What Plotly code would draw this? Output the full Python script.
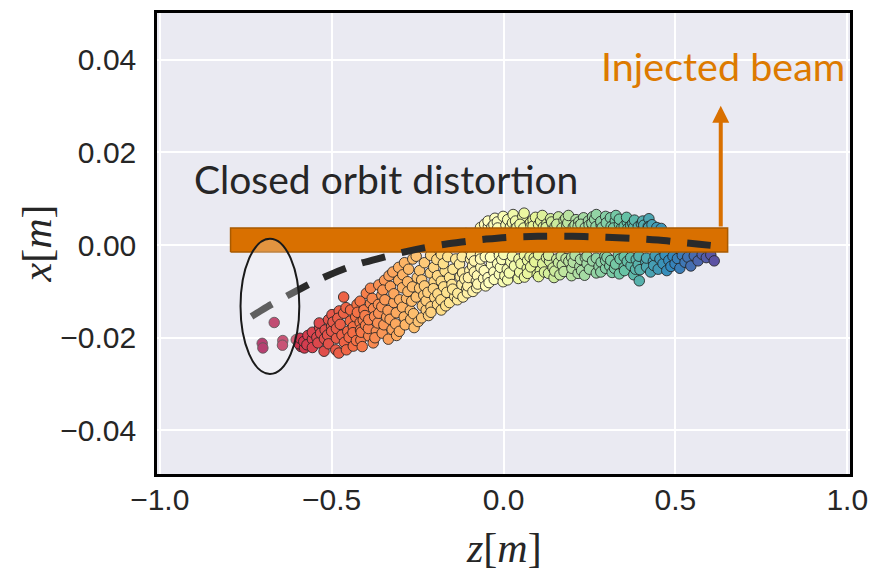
import plotly.graph_objects as go

# ---- particle cloud, grouped by longitudinal slice (z [m], x [m]) ----
z_tail = [-0.667, -0.702, -0.700, -0.642, -0.643, -0.603, -0.589]
x_tail = [-0.0167, -0.0212, -0.0222, -0.0206, -0.0216, -0.0204, -0.0219]

z_head = [-0.595, -0.592, -0.579, -0.581, -0.569, -0.572, -0.556, -0.556, -0.556, -0.543,
          -0.535, -0.540, -0.532, -0.536, -0.521, -0.519, -0.522, -0.509, -0.512, -0.500,
          -0.509, -0.499, -0.500, -0.488, -0.496, -0.486, -0.478, -0.486, -0.479, -0.482,
          -0.470, -0.465, -0.475, -0.463, -0.465, -0.453, -0.457, -0.458, -0.446, -0.449,
          -0.437, -0.445, -0.437, -0.430, -0.438, -0.426, -0.428, -0.417, -0.425, -0.416]
x_head = [-0.0213, -0.0201, -0.0222, -0.0208, -0.0195, -0.0215, -0.0203, -0.0188, -0.0221, -0.0199,
          -0.0178, -0.0211, -0.0190, -0.0168, -0.0202, -0.0183, -0.0229, -0.0161, -0.0194, -0.0175,
          -0.0213, -0.0150, -0.0186, -0.0226, -0.0166, -0.0201, -0.0142, -0.0180, -0.0233, -0.0158,
          -0.0194, -0.0112, -0.0171, -0.0210, -0.0147, -0.0186, -0.0226, -0.0135, -0.0164, -0.0199,
          -0.0176, -0.0140, -0.0218, -0.0155, -0.0189, -0.0128, -0.0206, -0.0167, -0.0145, -0.0183]

z_front = [-0.415, -0.417, -0.408, -0.414, -0.406, -0.411, -0.399, -0.401, -0.403, -0.392,
           -0.387, -0.393, -0.387, -0.392, -0.379, -0.378, -0.382, -0.370, -0.375, -0.363,
           -0.374, -0.364, -0.366, -0.354, -0.363, -0.353, -0.346, -0.354, -0.348, -0.351,
           -0.340, -0.335, -0.345, -0.333, -0.336, -0.324, -0.329, -0.330, -0.319, -0.322,
           -0.311, -0.319, -0.312, -0.305, -0.314, -0.302, -0.305, -0.294, -0.303, -0.294,
           -0.289, -0.293, -0.282, -0.286, -0.288, -0.278, -0.271, -0.279, -0.270, -0.276,
           -0.267, -0.260, -0.265, -0.264]
x_front = [-0.0205, -0.0121, -0.0162, -0.0188, -0.0140, -0.0219, -0.0104, -0.0173, -0.0152, -0.0196,
           -0.0126, -0.0180, -0.0093, -0.0161, -0.0211, -0.0137, -0.0115, -0.0186, -0.0154, -0.0086,
           -0.0200, -0.0128, -0.0168, -0.0108, -0.0147, -0.0190, -0.0076, -0.0133, -0.0172, -0.0097,
           -0.0155, -0.0203, -0.0118, -0.0066, -0.0141, -0.0182, -0.0089, -0.0160, -0.0124, -0.0058,
           -0.0195, -0.0105, -0.0146, -0.0076, -0.0170, -0.0118, -0.0048, -0.0134, -0.0186, -0.0092,
           -0.0155, -0.0064, -0.0115, -0.0172, -0.0038, -0.0100, -0.0141, -0.0079, -0.0160, -0.0052,
           -0.0121, -0.0178, -0.0090, -0.0030]

z_rise = [-0.262, -0.251, -0.254, -0.248, -0.254, -0.244, -0.236, -0.244, -0.238, -0.232,
          -0.238, -0.225, -0.230, -0.225, -0.230, -0.218, -0.213, -0.220, -0.211, -0.212,
          -0.202, -0.211, -0.200, -0.203, -0.204, -0.192, -0.192, -0.194, -0.181, -0.191,
          -0.181, -0.181, -0.182, -0.170, -0.174, -0.168, -0.175, -0.161, -0.165, -0.157,
          -0.157, -0.162, -0.150, -0.154, -0.142, -0.147, -0.148, -0.139, -0.134, -0.140,
          -0.126, -0.133, -0.128, -0.121, -0.129, -0.118, -0.119, -0.120, -0.107, -0.109,
          -0.113, -0.105]
x_rise = [-0.0148, -0.0070, -0.0112, -0.0165, -0.0024, -0.0093, -0.0131, -0.0055, -0.0157, -0.0108,
          -0.0075, -0.0140, -0.0038, -0.0120, -0.0088, -0.0152, -0.0060, -0.0102, -0.0133, -0.0022,
          -0.0079, -0.0145, -0.0113, -0.0048, -0.0094, -0.0128, -0.0066, -0.0031, -0.0140, -0.0105,
          -0.0078, -0.0020, -0.0118, -0.0056, -0.0090, -0.0131, -0.0040, 0.0015, -0.0102, -0.0070,
          -0.0124, -0.0025, -0.0085, 0.0005, -0.0111, -0.0052, -0.0095, -0.0030, -0.0118, 0.0020,
          -0.0068, -0.0104, -0.0041, -0.0085, 0.0010, -0.0112, -0.0060, -0.0025, -0.0094, 0.0025,
          -0.0073, -0.0103]

z_core = [-0.098, -0.104, -0.096, -0.102, -0.089, -0.090, -0.093, -0.079, -0.085, -0.078,
          -0.085, -0.076, -0.067, -0.075, -0.066, -0.067, -0.058, -0.067, -0.055, -0.052,
          -0.056, -0.044, -0.053, -0.045, -0.045, -0.035, -0.042, -0.034, -0.028, -0.038,
          -0.025, -0.027, -0.028, -0.017, -0.012, -0.018, -0.012, -0.017, -0.001, -0.009,
          -0.001, -0.005, 0.007, 0.004, 0.001, 0.012, 0.011, 0.020, 0.012, 0.021,
          0.026, 0.017, 0.028, 0.026, 0.037, 0.032, 0.043, 0.035, 0.045, 0.039,
          0.047, 0.056, 0.051, 0.048, 0.061, 0.061, 0.059, 0.069, 0.060, 0.070,
          0.078, 0.070, 0.080, 0.077]
x_core = [-0.0055, -0.0088, -0.0030, -0.0070, -0.0100, -0.0045, -0.0022, -0.0078, -0.0058, -0.0092,
          -0.0034, -0.0066, -0.0020, -0.0084, -0.0048, 0.0038, -0.0072, -0.0030, 0.0045, -0.0088,
          -0.0055, 0.0040, -0.0025, -0.0070, 0.0052, -0.0042, -0.0081, 0.0039, -0.0058, -0.0026,
          0.0058, -0.0074, 0.0044, -0.0040, -0.0063, 0.0050, -0.0022, 0.0037, -0.0079, -0.0048,
          0.0062, -0.0031, 0.0043, -0.0066, -0.0020, 0.0055, -0.0052, 0.0039, -0.0075, -0.0036,
          0.0048, -0.0060, 0.0066, -0.0024, 0.0040, -0.0045, -0.0072, 0.0052, -0.0030, 0.0038,
          -0.0058, 0.0062, -0.0040, 0.0045, -0.0069, -0.0022, 0.0037, -0.0050, 0.0069, -0.0033,
          0.0048, -0.0061, 0.0040, -0.0025]

z_mid = [0.086, 0.079, 0.089, 0.086, 0.098, 0.093, 0.091, 0.102, 0.107, 0.102,
         0.108, 0.102, 0.116, 0.114, 0.113, 0.125, 0.119, 0.126, 0.134, 0.124,
         0.131, 0.137, 0.131, 0.144, 0.144, 0.140, 0.147, 0.155, 0.150, 0.149,
         0.160, 0.160, 0.155, 0.168, 0.164, 0.176, 0.171, 0.170, 0.182, 0.181,
         0.176, 0.184, 0.190, 0.187, 0.198, 0.189, 0.198, 0.203, 0.199, 0.211,
         0.203, 0.208, 0.217, 0.208, 0.219, 0.222, 0.217, 0.224, 0.233, 0.227,
         0.225, 0.238, 0.238, 0.236, 0.247, 0.243, 0.249, 0.243, 0.259, 0.250,
         0.260, 0.259, 0.257, 0.270, 0.265, 0.270, 0.269, 0.278, 0.270, 0.284,
         0.284, 0.283, 0.283, 0.295, 0.287, 0.297, 0.297, 0.297]
x_mid = [0.0055, -0.0047, -0.0028, 0.0041, -0.0063, 0.0060, -0.0036, 0.0044, -0.0055, -0.0021,
         0.0052, -0.0068, 0.0039, -0.0040, 0.0064, -0.0027, -0.0058, 0.0046, -0.0035, 0.0038,
         -0.0061, 0.0057, -0.0022, 0.0042, -0.0049, 0.0050, -0.0070, -0.0030, 0.0040, -0.0056,
         0.0061, -0.0038, 0.0045, -0.0024, -0.0064, 0.0053, -0.0043, 0.0037, -0.0029, 0.0058,
         -0.0057, 0.0042, -0.0035, 0.0048, -0.0066, 0.0064, -0.0026, 0.0039, -0.0050, 0.0055,
         -0.0037, 0.0043, -0.0061, -0.0022, 0.0050, -0.0046, 0.0040, -0.0031, 0.0059, -0.0055,
         0.0045, -0.0027, 0.0038, -0.0065, 0.0052, -0.0040, 0.0043, -0.0024, 0.0061, -0.0052,
         0.0039, -0.0034, 0.0047, -0.0060, 0.0056, -0.0028, 0.0040, -0.0046, 0.0066, -0.0037,
         0.0044, -0.0058, 0.0051, -0.0024, 0.0038, -0.0050, 0.0062, -0.0033]

z_late = [0.299, 0.309, 0.301, 0.311, 0.316, 0.313, 0.312, 0.325, 0.323, 0.320,
          0.334, 0.327, 0.326, 0.337, 0.337, 0.344, 0.339, 0.337, 0.351, 0.351,
          0.351, 0.360, 0.352, 0.362, 0.360, 0.358, 0.371, 0.370, 0.379, 0.370,
          0.376, 0.384, 0.379, 0.386, 0.381, 0.395, 0.392, 0.392, 0.401, 0.394,
          0.405, 0.397, 0.408, 0.414, 0.408, 0.416, 0.423, 0.416, 0.421, 0.428,
          0.422, 0.436]
x_late = [0.0048, -0.0045, -0.0026, 0.0059, -0.0059, 0.0040, -0.0033, 0.0052, -0.0050, 0.0037,
          -0.0022, 0.0064, -0.0041, 0.0045, -0.0062, 0.0038, -0.0030, 0.0056, -0.0048, 0.0041,
          -0.0025, 0.0050, -0.0055, 0.0036, -0.0035, 0.0060, -0.0044, 0.0042, -0.0064, -0.0027,
          0.0047, -0.0052, 0.0039, -0.0031, 0.0054, -0.0077, 0.0040, -0.0042, 0.0046, -0.0024,
          0.0052, -0.0053, 0.0037, -0.0036, 0.0043, -0.0047, 0.0057, -0.0028, 0.0040, -0.0058,
          0.0038, -0.0035]

z_end = [0.432, 0.437, 0.441, 0.446, 0.450, 0.455, 0.459, 0.464, 0.470, 0.475,
         0.481, 0.487, 0.493, 0.499, 0.506, 0.513, 0.520, 0.528, 0.536, 0.545,
         0.555, 0.566, 0.578, 0.590, 0.603, 0.613]
x_end = [0.0044, -0.0044, -0.0023, 0.0038, -0.0052, -0.0030, 0.0036, -0.0040, -0.0021, -0.0055,
         -0.0033, -0.0046, -0.0024, -0.0040, -0.0029, -0.0050, -0.0022, -0.0037, -0.0026, -0.0045,
         -0.0023, -0.0034, -0.0020, -0.0027, -0.0021, -0.0034]

# ---- closed orbit distortion (dashed curve) ----
orbit_z = [-0.733, -0.687, -0.643, -0.580, -0.530, -0.470, -0.414, -0.348, -0.290, -0.226,
           -0.170, -0.107, -0.050, 0.015, 0.100, 0.200, 0.300, 0.386, 0.450, 0.513, 0.570, 0.632]
orbit_x = [-0.0154, -0.0133, -0.0115, -0.0090, -0.0072, -0.0053, -0.0039, -0.0026, -0.0015, -0.0005,
           0.0002, 0.0008, 0.0013, 0.0017, 0.0019, 0.0019, 0.0017, 0.0014, 0.0011, 0.0006, 0.0002, -0.0003]

# injected beam band, arrow and highlighted tail region
beam_z = [-0.794, 0.652]
beam_x = [-0.0015, 0.0037]
arrow_z = 0.632
arrow_x = [0.0037, 0.0301]
tail_z = [-0.765, -0.594]
tail_x = [-0.0278, 0.0014]

z_all = z_tail + z_head + z_front + z_rise + z_core + z_mid + z_late + z_end
x_all = x_tail + x_head + x_front + x_rise + x_core + x_mid + x_late + x_end

spectral = [
    [0.0, "#9e0142"], [0.1, "#d53e4f"], [0.2, "#f46d43"], [0.3, "#fdae61"],
    [0.4, "#fee08b"], [0.5, "#ffffbf"], [0.6, "#e6f598"], [0.7, "#abdda4"],
    [0.8, "#66c2a5"], [0.9, "#3288bd"], [1.0, "#5e4fa2"],
]
ORANGE = "#D97000"

fig = go.Figure()

fig.add_trace(go.Scatter(
    x=z_all, y=x_all, mode="markers",
    marker=dict(size=10.5, color=z_all, colorscale=spectral, cmin=-0.70, cmax=0.62,
                line=dict(width=1, color="rgba(35,35,35,0.85)")),
    hoverinfo="skip", showlegend=False,
))

# injected beam band drawn over the particles
fig.add_trace(go.Scatter(
    x=[beam_z[0], beam_z[1], beam_z[1], beam_z[0], beam_z[0]],
    y=[beam_x[0], beam_x[0], beam_x[1], beam_x[1], beam_x[0]],
    mode="lines", fill="toself", fillcolor=ORANGE,
    line=dict(color="#A85A00", width=1.5),
    hoverinfo="skip", showlegend=False,
))

fig.add_trace(go.Scatter(
    x=orbit_z, y=orbit_x, mode="lines",
    line=dict(color="#2a2a2a", width=7, dash="24px,17px", shape="spline"),
    hoverinfo="skip", showlegend=False,
))

fig.add_shape(type="circle", xref="x", yref="y",
              x0=tail_z[0], x1=tail_z[1], y0=tail_x[0], y1=tail_x[1],
              fillcolor="rgba(255,255,255,0.25)", line=dict(color="#1a1a1a", width=2),
              layer="above")

fig.add_annotation(x=arrow_z, y=arrow_x[1], ax=arrow_z, ay=arrow_x[0],
                   xref="x", yref="y", axref="x", ayref="y",
                   text="", showarrow=True, arrowhead=2, arrowsize=0.85,
                   arrowwidth=4, arrowcolor=ORANGE, standoff=0)

fig.add_annotation(x=-0.907, y=0.0143, xref="x", yref="y", xanchor="left", yanchor="middle",
                   text="Closed orbit distortion", showarrow=False,
                   font=dict(family="Lato", size=39, color="#262626"))
fig.add_annotation(x=0.278, y=0.0387, xref="x", yref="y", xanchor="left", yanchor="middle",
                   text="Injected beam", showarrow=False,
                   font=dict(family="Lato", size=39.5, color="#DD7A00"))

# axis titles
fig.add_annotation(x=0.5, y=0, xref="paper", yref="paper", yshift=-74,
                   xanchor="center", yanchor="middle", showarrow=False,
                   text="<i>z</i>[<i>m</i>]",
                   font=dict(family="Liberation Serif", size=42, color="#262626"))
fig.add_annotation(x=0, y=0.5, xref="paper", yref="paper", xshift=-121,
                   xanchor="center", yanchor="middle", showarrow=False, textangle=-90,
                   text="<i>x</i>[<i>m</i>]",
                   font=dict(family="Liberation Serif", size=42, color="#262626"))

axis_common = dict(
    showgrid=True, gridcolor="white", gridwidth=1.6, zeroline=False,
    showline=True, linecolor="black", linewidth=2.5, mirror=True,
    ticks="outside", tickcolor="rgba(0,0,0,0)",
    tickfont=dict(family="Liberation Sans", size=30, color="#262626"),
)
fig.update_xaxes(range=[-1.008, 1.008], tickvals=[-1.0, -0.5, 0.0, 0.5, 1.0],
                 tickformat=".1f", ticklen=0, ticklabelstandoff=-3, **axis_common)
fig.update_yaxes(range=[-0.0494, 0.0501], tickvals=[-0.04, -0.02, 0.0, 0.02, 0.04],
                 tickformat=".2f", ticklen=12, **axis_common)

fig.update_layout(
    width=878, height=573,
    margin=dict(l=157, r=26, t=10, b=99),
    paper_bgcolor="white", plot_bgcolor="#EAEAF2",
    showlegend=False,
)

fig.write_html("out.html")
